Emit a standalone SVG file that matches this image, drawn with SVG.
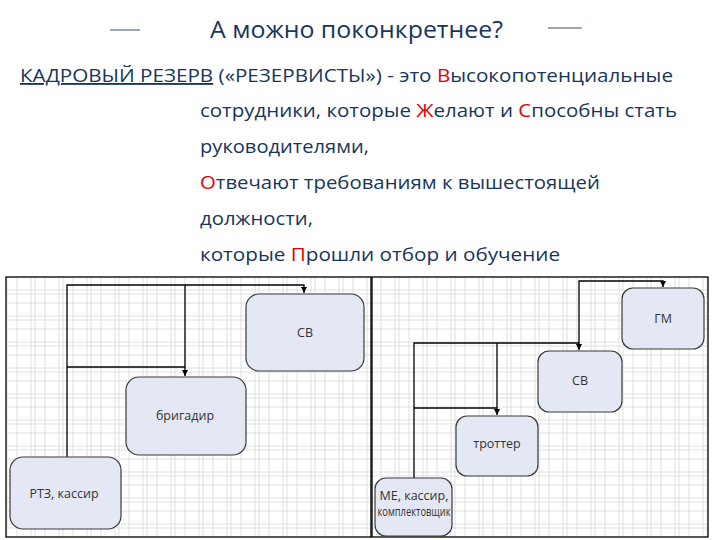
<svg xmlns="http://www.w3.org/2000/svg" width="720" height="540" viewBox="0 0 720 540">
<style>
.t{font-family:"Open Sans","Noto Sans","Liberation Sans",sans-serif;fill:#17365d;}
.r{fill:#e00000;}
.box{fill:#e3e8f4;stroke:#3a3a3a;stroke-width:1.2;}
.bl{font-family:"Open Sans","Liberation Sans",sans-serif;font-size:12.5px;fill:#333;text-anchor:middle;}
.c{fill:none;stroke:#000;stroke-width:1.3;}
.frame{fill:url(#grid);stroke:#000;stroke-width:1.3;}
</style>
<defs>
<pattern id="grid" width="28" height="26" patternUnits="userSpaceOnUse">
<rect width="28" height="26" fill="#fff"/>
<path d="M3 0V26M7 0V26M17 0V26M0 4H28M0 8H28M0 17H28" stroke="#e0e0e0" stroke-width="1" fill="none"/>
</pattern>
<marker id="ah" markerWidth="8" markerHeight="8" refX="6" refY="4" orient="auto" markerUnits="userSpaceOnUse">
<path d="M0,1 L6,4 L0,7 z" fill="#000"/>
</marker>
</defs>
<rect width="720" height="540" fill="#fff"/>
<g id="title">
<line x1="110" y1="30" x2="140" y2="30" stroke="#3c4e6e" stroke-width="1"/>
<line x1="548" y1="28" x2="582" y2="28" stroke="#3c4e6e" stroke-width="1"/>
<text class="t" x="210" y="38" font-size="23" textLength="293" lengthAdjust="spacingAndGlyphs">А можно поконкретнее?</text>
</g>
<g id="body" font-size="18.5">
<text class="t" x="20" y="82" textLength="653" lengthAdjust="spacingAndGlyphs"><tspan text-decoration="underline">КАДРОВЫЙ РЕЗЕРВ</tspan> («РЕЗЕРВИСТЫ»)  - это <tspan class="r">В</tspan>ысокопотенциальные</text>
<text class="t" x="200" y="117" textLength="477" lengthAdjust="spacingAndGlyphs">сотрудники, которые <tspan class="r">Ж</tspan>елают и <tspan class="r">С</tspan>пособны стать</text>
<text class="t" x="200" y="153" textLength="169" lengthAdjust="spacingAndGlyphs">руководителями,</text>
<text class="t" x="200" y="189" textLength="400" lengthAdjust="spacingAndGlyphs"><tspan class="r">О</tspan>твечают требованиям к вышестоящей</text>
<text class="t" x="200" y="225" textLength="113" lengthAdjust="spacingAndGlyphs">должности,</text>
<text class="t" x="200" y="261" textLength="360" lengthAdjust="spacingAndGlyphs">которые <tspan class="r">П</tspan>рошли отбор и обучение</text>
</g>
<g id="panels">
<rect class="frame" x="6" y="277" width="365" height="260"/>
<rect class="frame" x="372" y="277" width="336" height="260"/>
</g>
<g id="connectors">
<path class="c" d="M67 457V285H304V293" marker-end="url(#ah)"/>
<path class="c" d="M185 285V376" marker-end="url(#ah)"/>
<path class="c" d="M67 367H185"/>
<path class="c" d="M414 478V343H579V350" marker-end="url(#ah)"/>
<path class="c" d="M579 343V281H663V287" marker-end="url(#ah)"/>
<path class="c" d="M497 343V415" marker-end="url(#ah)"/>
<path class="c" d="M414 408H497"/>
</g>
<g id="node-sv1"><rect class="box" x="246" y="294" width="118" height="77" rx="13"/><text class="bl" x="305" y="337">СВ</text></g>
<g id="node-brigadir"><rect class="box" x="126" y="377" width="120" height="78" rx="13"/><text class="bl" x="185" y="420">бригадир</text></g>
<g id="node-rtz"><rect class="box" x="10" y="457" width="111" height="72" rx="13"/><text class="bl" x="64" y="498">РТЗ, кассир</text></g>
<g id="node-gm"><rect class="box" x="622" y="288" width="82" height="61" rx="11"/><text class="bl" x="663" y="323" font-size="9.5">ГМ</text></g>
<g id="node-sv2"><rect class="box" x="538" y="351" width="84" height="61" rx="11"/><text class="bl" x="580" y="385" font-size="9.5">СВ</text></g>
<g id="node-trotter"><rect class="box" x="456" y="416" width="82" height="60" rx="11"/><text class="bl" x="497" y="448" font-size="9.5">троттер</text></g>
<g id="node-me"><rect class="box" x="375" y="478" width="77" height="58" rx="11"/><text class="bl" x="414" y="500" font-size="8.5">МЕ, кассир,</text><text class="bl" x="414" y="516" font-size="8.5" textLength="73" lengthAdjust="spacingAndGlyphs">комплектовщик</text></g>
</svg>
